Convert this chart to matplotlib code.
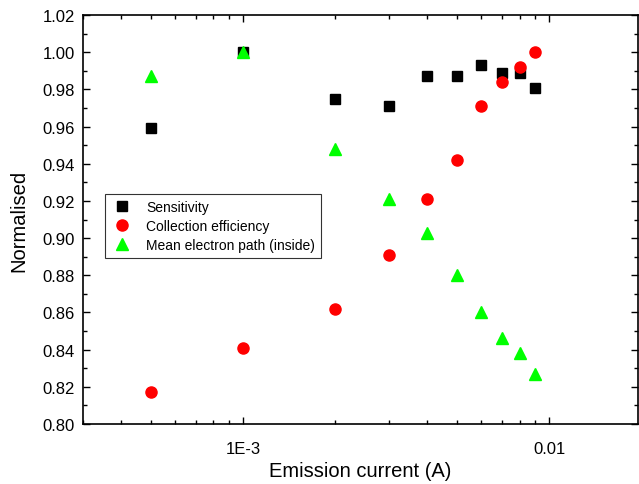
import matplotlib
matplotlib.use("Agg")
from matplotlib import pyplot as plt
from matplotlib.ticker import FixedLocator, FuncFormatter, MultipleLocator, LogLocator, NullFormatter

plt.rcParams['font.family'] = ['Liberation Sans', 'DejaVu Sans']

current = [0.0005, 0.001, 0.002, 0.003, 0.004, 0.005, 0.006, 0.007, 0.008, 0.009]
sensitivity = [0.959, 1.000, 0.975, 0.971, 0.987, 0.987, 0.993, 0.989, 0.989, 0.981]
collection = [0.817, 0.841, 0.862, 0.891, 0.921, 0.942, 0.971, 0.984, 0.992, 1.000]
path_inside = [0.987, 1.000, 0.948, 0.921, 0.903, 0.880, 0.860, 0.846, 0.838, 0.827]

fig = plt.figure(figsize=(6.39, 4.85), dpi=100)
ax = fig.add_axes([83 / 639, 60 / 485, 555 / 639, 409 / 485])

ax.plot(current, sensitivity, 's', color='black', ms=7, label="Sensitivity")
ax.plot(current, collection, 'o', color='#ff0000', ms=8, label="Collection efficiency")
ax.plot(current, path_inside, '^', color='#00ff00', ms=9, label="Mean electron path (inside)")

ax.set_xscale('log')
ax.set_xlim(3e-4, 1.95e-2)
ax.set_ylim(0.80, 1.02)

ax.xaxis.set_major_locator(FixedLocator([1e-3, 1e-2]))
ax.xaxis.set_major_formatter(FuncFormatter(lambda v, p: "1E-3" if v < 5e-3 else "0.01"))
ax.xaxis.set_minor_locator(LogLocator(base=10, subs=range(2, 10)))
ax.xaxis.set_minor_formatter(NullFormatter())
ax.yaxis.set_major_locator(MultipleLocator(0.02))
ax.yaxis.set_minor_locator(MultipleLocator(0.01))
ax.yaxis.set_major_formatter(FuncFormatter(lambda v, p: f"{v:.2f}"))

ax.tick_params(which='both', direction='in', top=True, right=True, labelsize=12, width=1)
ax.tick_params(which='major', length=5)
ax.tick_params(which='minor', length=3)
ax.tick_params(axis='x', pad=12)
ax.tick_params(axis='y', pad=6)
for s in ax.spines.values():
    s.set_linewidth(1.2)

ax.set_xlabel("Emission current (A)", fontsize=14.5, labelpad=4)
ax.set_ylabel("Normalised", fontsize=14.5, labelpad=10)

leg = ax.legend(loc='upper left', bbox_to_anchor=(0.04, 0.563), borderaxespad=0,
                fontsize=10, frameon=True, fancybox=False, edgecolor='black',
                handletextpad=1.0, labelspacing=0.35, borderpad=0.45, handlelength=1.5)
leg.get_frame().set_linewidth(0.8)

fig.savefig("out.png", dpi=100)
